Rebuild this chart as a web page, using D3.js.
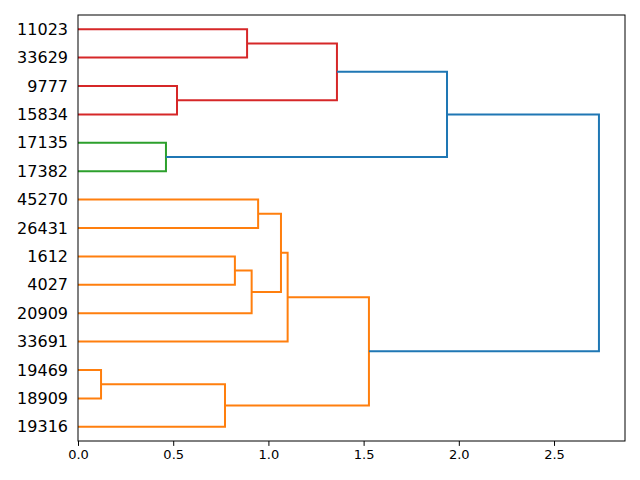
<!DOCTYPE html>
<html><head><meta charset="utf-8">
<script src="https://cdn.jsdelivr.net/npm/d3@7"></script>
<style>body{margin:0;background:#fff}</style>
</head><body>
<svg id="c" width="640" height="480"></svg>
<script>
// Leaf labels, top to bottom
const leafLabels = ["11023","33629","9777","15834","17135","17382","45270","26431","1612","4027","20909","33691","19469","18909","19316"];
// Merges: new node ids start at leafLabels.length
const mergeLeft   = [12, 4, 2, 15, 8, 0, 19, 6, 22, 23, 20, 24, 25, 27];
const mergeRight  = [13, 5, 3, 14, 9, 1, 10, 7, 21, 11, 17, 18, 16, 26];
const mergeHeight = [0.121, 0.462, 0.52, 0.772, 0.824, 0.888, 0.912, 0.946, 1.066, 1.101, 1.36, 1.528, 1.938, 2.736];
const mergeColor  = ["C1","C2","C3","C1","C1","C3","C1","C1","C1","C1","C3","C1","C0","C0"];
const xTicks = [0, 0.5, 1.0, 1.5, 2.0, 2.5];

const palette = {C0:"#1f77b4", C1:"#ff7f0e", C2:"#2ca02c", C3:"#d62728"};
const svg = d3.select("#c");
const L = 78, R = 625, T = 15, B = 441;
const xMax = d3.max(mergeHeight) * 1.05;
const x = d3.scaleLinear().domain([0, xMax]).range([L, R]);
const n = leafLabels.length;
const y = d3.scaleLinear().domain([0, n * 10]).range([B, T]);

// node positions
const pos = [], hgt = [];
leafLabels.forEach((d, i) => { pos.push((n - 1 - i) * 10 + 5); hgt.push(0); });
mergeLeft.forEach((a, k) => {
  const b = mergeRight[k];
  pos.push((pos[a] + pos[b]) / 2);
  hgt.push(mergeHeight[k]);
});

const g = svg.append("g");
mergeLeft.forEach((a, k) => {
  const b = mergeRight[k], h = mergeHeight[k];
  const pts = [[hgt[a], pos[a]], [h, pos[a]], [h, pos[b]], [hgt[b], pos[b]]];
  g.append("path")
    .attr("d", d3.line().x(p => x(p[0])).y(p => y(p[1]))(pts))
    .attr("fill", "none")
    .attr("stroke", palette[mergeColor[k]])
    .attr("stroke-width", 2)
    .attr("stroke-linejoin", "miter")
    .attr("stroke-linecap", "butt");
});

// frame
svg.append("rect").attr("x", L).attr("y", T).attr("width", R - L).attr("height", B - T)
  .attr("fill", "none").attr("stroke", "#000").attr("stroke-width", 1);

// x axis
const xAxis = d3.axisBottom(x).tickValues(xTicks).tickFormat(d3.format(".1f")).tickSizeOuter(0).tickSize(4.9).tickPadding(4);
const xg = svg.append("g").attr("transform", `translate(0,${B})`).call(xAxis);
xg.select(".domain").remove();
xg.selectAll("text").attr("font-family", "DejaVu Sans").attr("font-size", 13).attr("fill", "#000");
xg.selectAll("line").attr("stroke", "#000");

// y labels
const yAxis = d3.axisLeft(y).tickValues(leafLabels.map((d, i) => (n - 1 - i) * 10 + 5))
  .tickFormat((d) => leafLabels[n - 1 - (d - 5) / 10]).tickSize(0).tickPadding(10);
const yg = svg.append("g").attr("transform", `translate(${L},0)`).call(yAxis);
yg.select(".domain").remove();
yg.selectAll("text").attr("font-family", "DejaVu Sans").attr("font-size", 16).attr("fill", "#000");
</script>
</body></html>
